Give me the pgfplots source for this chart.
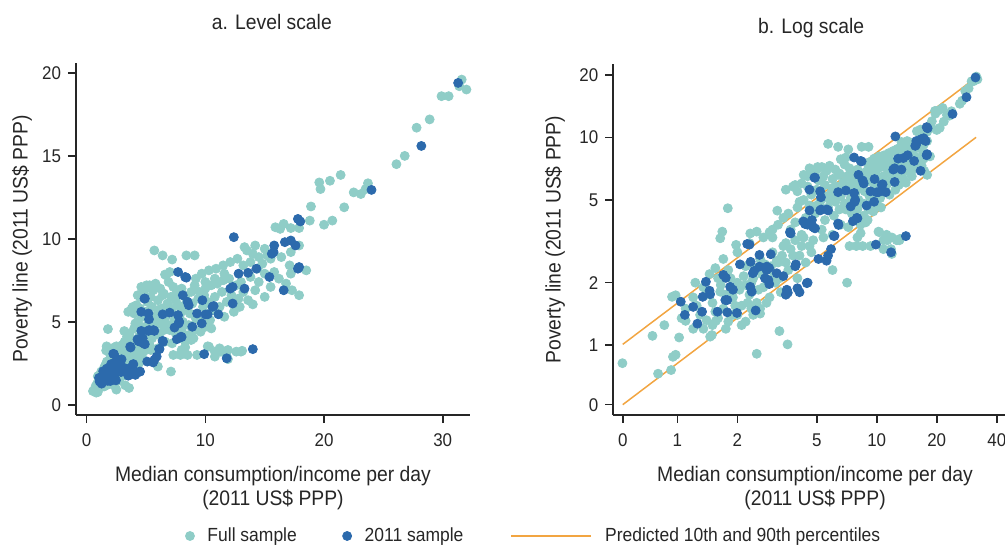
\documentclass[border=0pt]{standalone}
\usepackage{pgfplots}
\pgfplotsset{compat=1.18}
\usepackage{pgfplotstable}
\usepackage{fontspec}
\setmainfont{Liberation Sans}[FakeStretch=0.92]
\definecolor{fullc}{HTML}{8FCDC7}
\definecolor{yrc}{HTML}{2C6AAC}
\definecolor{predc}{HTML}{F2A541}
\definecolor{axc}{HTML}{262626}

\pgfplotsset{
  dotlegend/.style={legend image code/.code={\draw[mark repeat=2,mark phase=2,##1] plot coordinates {(0pt,0pt) (4.25pt,0pt) (6.75pt,0pt)};}},
  linelegend/.style={legend image code/.code={\draw[##1] (0pt,0pt) -- (40pt,0pt);}},
}

\pgfplotstableread{
x y
31.6 19.6
31.4 19.2
32.0 19.0
30.5 18.6
29.9 18.6
28.9 17.2
27.8 16.7
26.8 15.0
26.1 14.5
21.4 13.85
20.5 13.5
19.6 13.4
19.7 13.0
23.7 13.35
22.5 12.8
23.1 12.7
23.5 13.0
21.7 11.9
18.9 11.95
18.8 11.1
20.7 11.1
20.0 10.85
15.9 10.7
16.6 10.9
17.2 10.65
17.9 10.65
16.3 10.6
17.9 9.6
17.2 9.2
16.4 8.9
18.5 8.1
17.1 8.4
17.2 7.9
5.7 9.3
6.4 9.0
7.2 8.75
8.4 9.0
9.1 9.0
6.6 7.85
7.0 8.0
6.7 7.8
9.1 7.2
17.3 6.9
17.9 6.6
15.0 6.5
14.0 6.05
13.5 9.3
14.0 9.1
14.5 8.9
13.8 8.6
14.8 8.5
15.2 9.0
13.2 8.4
14.4 8.2
15.5 8.8
15.0 9.4
9.5 6.8
10.0 7.0
10.5 7.2
11.0 7.3
11.5 7.5
12.0 7.6
10.8 6.5
11.4 6.8
12.6 7.2
13.0 7.4
13.8 7.7
14.5 7.4
15.0 7.9
15.8 8.0
16.2 7.6
12.2 6.6
13.2 6.8
10.2 6.2
11.8 6.2
9.8 5.9
10.6 5.7
11.2 5.9
12.8 6.4
14.2 6.9
15.5 7.1
16.8 7.3
9.2 7.6
9.7 7.9
10.3 8.1
10.9 8.2
11.5 8.4
12.1 8.6
12.7 8.8
13.3 9.5
14.2 9.6
11.6 7.9
10.8 7.6
10.0 7.4
11.6 5.3
12.4 5.6
10.4 5.1
13.6 6.3
12.9 5.9
7.3 3.0
7.9 3.0
8.5 3.0
9.3 3.0
8.0 3.3
10.3 3.5
10.8 3.2
11.3 3.2
11.9 3.3
12.6 3.2
13.1 3.25
10.8 2.9
11.8 2.9
11.9 2.75
13.0 3.2
8.3 3.46
10.2 3.52
11.2 3.4
6.0 3.4
5.4 3.3
7.1 2.0
6.0 2.3
4.0 5.5
4.2 6.0
4.5 6.5
4.8 6.8
5.0 7.0
5.3 7.2
5.6 6.9
5.8 7.3
6.2 7.0
6.5 6.7
6.9 7.4
7.3 7.1
7.6 6.8
8.0 7.0
8.3 6.5
8.8 6.8
5.1 6.2
5.5 5.9
6.0 6.3
6.3 5.8
6.8 6.1
7.2 5.8
7.7 6.0
8.2 5.7
8.7 5.5
9.2 5.2
9.6 5.0
10.0 4.7
10.5 4.6
4.3 5.0
4.7 5.3
5.2 4.9
5.7 4.6
6.2 4.9
6.6 5.2
7.0 4.5
7.5 4.3
8.0 4.5
8.6 4.2
9.0 4.0
3.6 4.3
4.0 4.6
4.4 4.1
4.9 4.3
5.5 4.0
6.1 4.2
6.6 3.8
7.2 3.7
3.2 3.8
3.7 3.6
4.2 3.4
4.8 3.2
5.3 3.6
3.0 3.3
3.5 3.1
3.17 4.44
2.9 3.5
3.9 5.9
4.3 6.6
4.6 7.1
3.5 5.6
3.8 5.8
5.05 7.2
4.5 5.8
5.0 5.6
5.4 6.5
5.9 5.4
6.4 6.6
6.7 5.6
7.1 6.5
7.5 6.3
7.9 5.5
8.4 6.1
8.9 6.1
9.4 6.4
9.9 6.6
5.8 5.0
6.3 5.3
6.9 4.8
7.4 5.1
8.1 5.0
8.6 4.8
9.1 4.5
9.6 4.4
5.0 4.7
5.5 5.2
6.0 5.7
6.5 4.5
7.8 4.0
8.3 3.8
8.8 3.9
4.1 4.9
4.6 4.7
3.4 4.1
3.9 3.9
0.53 0.82
0.80 0.73
0.93 0.76
0.95 0.88
0.98 0.90
0.75 1.11
0.86 1.25
1.02 1.09
0.94 1.71
0.98 1.74
1.1 1.31
1.23 2.0
1.40 1.32
1.56 1.31
1.46 1.10
1.49 1.12
1.64 1.81
1.68 3.52
1.64 3.27
1.97 3.04
2.32 3.45
2.50 3.52
2.50 0.91
3.25 1.17
3.57 1.01
2.6 1.42
1.79 4.56
1.1 1.5
1.2 1.7
1.3 1.4
1.35 1.9
1.5 1.6
1.6 2.1
1.7 1.5
1.8 2.3
1.9 1.7
2.0 2.0
2.1 1.55
2.2 2.4
2.3 1.75
2.4 2.1
2.5 1.6
2.6 2.6
2.7 1.9
2.8 2.3
2.9 1.7
3.0 2.8
3.1 2.0
3.2 2.5
3.3 1.8
3.4 3.0
3.6 2.3
3.8 2.7
4.0 2.1
4.2 3.0
4.4 2.5
4.7 2.8
1.8 1.3
2.0 1.4
2.2 1.3
2.6 1.5
2.8 1.6
1.45 2.2
1.7 2.6
2.0 2.8
2.3 3.1
2.7 3.3
3.0 3.6
1.2 1.2
1.05 1.35
1.5 1.25
2.4 1.4
1.25 1.55
1.4 1.75
1.55 1.45
1.65 1.95
1.75 1.75
1.85 2.1
1.95 1.55
2.05 1.85
2.15 2.15
2.25 1.6
2.35 2.0
2.45 2.35
2.55 1.85
2.65 2.2
2.75 2.45
2.85 2.0
2.95 2.4
3.05 2.15
3.15 2.55
3.25 2.1
3.35 2.7
3.5 2.5
3.7 2.9
3.9 3.2
4.1 2.7
4.3 3.3
4.6 3.0
1.55 2.35
1.35 1.2
1.6 1.35
1.75 1.2
1.9 1.4
2.1 1.25
2.35 1.5
2.2 1.95
}\fulltab

\pgfplotstableread{
x y
31.3 19.4
28.2 15.6
24.0 12.95
18.0 11.05
12.4 10.1
15.8 9.6
16.7 9.8
17.6 9.6
15.75 9.2
17.9 8.3
7.7 8.0
8.3 7.7
12.8 7.9
13.6 7.95
14.3 8.2
15.4 7.7
16.6 6.9
12.1 7.0
12.3 7.1
13.3 7.0
12.3 6.1
10.6 5.9
11.1 5.45
10.2 5.45
9.75 6.3
9.3 5.5
9.7 4.9
8.9 4.7
8.1 6.6
8.5 6.2
8.6 6.0
7.7 5.4
7.75 4.9
7.4 4.65
7.95 4.1
7.6 3.95
7.0 5.55
6.4 5.45
6.4 3.85
6.1 3.35
5.9 2.9
5.7 2.7
5.1 2.6
4.9 6.4
4.6 5.6
5.2 5.5
5.25 5.15
4.6 4.45
5.2 4.45
5.7 4.45
4.35 3.9
4.5 3.8
4.9 3.65
4.8 3.7
3.7 3.45
14.0 3.35
9.9 3.05
11.8 2.8
2.3 3.05
3.9 2.4
4.5 2.0
4.1 1.8
3.5 1.75
1.04 1.62
1.09 1.40
1.20 1.53
1.26 1.27
1.34 1.71
1.33 1.45
1.39 2.02
1.45 1.83
1.46 1.76
1.59 1.45
1.70 2.18
1.75 2.11
1.74 1.65
1.78 1.65
1.84 1.91
1.90 1.85
1.78 1.44
1.99 1.43
2.06 2.45
2.24 3.07
2.33 2.52
2.39 2.22
2.43 2.28
2.32 1.91
2.36 1.81
2.47 1.47
2.58 2.72
2.58 2.39
2.81 2.39
2.89 2.35
2.94 2.74
2.86 2.06
2.89 1.97
3.15 2.22
3.40 2.15
3.54 1.85
3.58 1.79
4.0 1.88
3.93 2.45
3.67 3.5
4.46 1.99
4.37 3.83
4.87 6.4
5.27 4.5
5.62 4.5
4.28 3.94
4.73 4.0
6.43 3.79
6.14 3.36
5.6 2.55
8.4 7.66
7.8 5.0
8.0 4.08
10.7 5.95
10.0 5.44
17.8 11.2
17.2 9.9
15.6 9.1
17.8 8.2
2.75 2.1
2.8 2.3
}\yrtab

\begin{document}
\begin{tikzpicture}
\path[use as bounding box] (0pt,0pt) rectangle (502.5pt,-272.5pt);
\pgfplotsset{
  panel/.style={
    scale only axis,
    axis lines=left,
    axis line style={-, line width=0.9pt, draw=axc},
    tick align=outside,
    major tick length=4pt,
    minor tick length=0pt,
    tick style={line width=0.8pt, draw=axc},
    ticklabel style={font=\fontsize{9.2}{10}\selectfont, text=axc},
    xticklabel style={yshift=-2pt},
    /pgf/number format/assume math mode=true,
    every axis title shift=0pt,
    title style={font=\fontsize{10.5}{12}\selectfont, text=axc},
    xlabel style={font=\fontsize{10.5}{12}\selectfont, text=axc, align=center},
    ylabel style={font=\fontsize{10.5}{12}\selectfont, text=axc},
    clip=false,
  },
  fullst/.style={only marks, mark=*, mark size=2.25pt, color=fullc},
  yrst/.style={only marks, mark=*, mark size=2.25pt, color=yrc},
}
\begin{axis}[panel,
  width=197pt, height=176pt,
  at={(38pt,-207.5pt)}, anchor=south west,
  xmin=-0.9, xmax=32.3, ymin=-0.62, ymax=20.6,
  xtick={0,10,20,30}, ytick={0,5,10,15,20},
  title={a. Level scale},
  title style={at={(axis description cs:0.497,1.1165)}, anchor=center},
  xlabel={Median consumption/income per day\\(2011 US\$ PPP)},
  xlabel style={at={(axis description cs:0.5,-0.207)}, anchor=center},
  ylabel={Poverty line (2011 US\$ PPP)},
  ylabel style={at={(axis description cs:-0.137,0.5)}, anchor=center},
]
\addplot[fullst] table {\fulltab};
\addplot[yrst] table {\yrtab};
\end{axis}

\begin{axis}[panel,
  width=195.85pt, height=175.35pt,
  at={(306.65pt,-207.5pt)}, anchor=south west,
  xmode=log, ymode=log,
  xmin=0.477, xmax=44, ymin=0.462, ymax=22.45,
  xtick={0.532,1,2,5,10,20,40}, xticklabels={0,1,2,5,10,20,40},
  ytick={0.518,1,2,5,10,20}, yticklabels={0,1,2,5,10,20},
  title={b. Log scale},
  title style={at={(axis description cs:0.505,1.1035)}, anchor=center},
  xlabel={Median consumption/income per day\\(2011 US\$ PPP)},
  xlabel style={at={(axis description cs:0.515,-0.208)}, anchor=center},
  ylabel={Poverty line (2011 US\$ PPP)},
  ylabel style={at={(axis description cs:-0.149,0.5)}, anchor=center},
  legend columns=3,
  legend style={at={(axis description cs:-1.0922,-0.345)}, anchor=west,
    draw=none, fill=none, inner sep=0pt, outer sep=0pt,
    font=\fontsize{9.5}{11}\selectfont, text=axc,
    /tikz/every odd column/.append style={column sep=4.5pt},
    /tikz/column 2/.append style={column sep=20.9pt},
    /tikz/column 4/.append style={column sep=21.6pt}},
]
\addplot[fullst, dotlegend] table {\fulltab};
\addlegendentry{Full sample}
\addplot[yrst, dotlegend] table {\yrtab};
\addlegendentry{2011 sample}
\addplot[predc, line width=0.75pt, no marks, linelegend] coordinates {(0.532,1.01) (31.5,19.4)};
\addlegendentry{Predicted 10th and 90th percentiles}
\addplot[predc, line width=0.75pt, no marks, forget plot] coordinates {(0.532,0.518) (31.5,10.0)};
\end{axis}
\end{tikzpicture}
\end{document}
